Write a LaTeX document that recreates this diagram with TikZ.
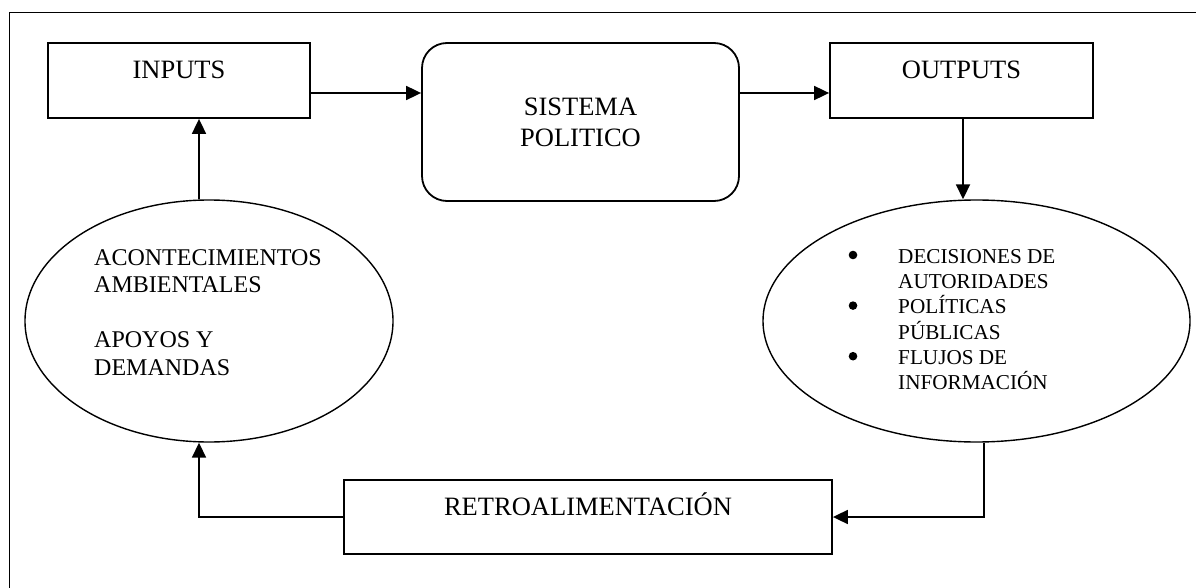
\documentclass[tikz,border=0pt]{standalone}
\usepackage{fontspec}
\setmainfont{Liberation Serif}
\usetikzlibrary{arrows.meta,shapes.geometric}
\tikzset{
  boxnode/.style={draw, line width=1.8pt, inner sep=0pt, rectangle},
  roundnode/.style={draw, line width=1.8pt, inner sep=0pt, rectangle, rounded corners=25pt},
  ellnode/.style={draw, line width=1.4pt, inner sep=0pt, ellipse},
  bigfont/.style={font=\fontsize{26.5}{31}\selectfont},
  arr/.style={line width=1.8pt, -{Triangle[length=15pt,width=14pt]}},
  bulletdot/.style={fill=black},
}
\begin{document}
\begin{tikzpicture}[x=1pt,y=-1pt]
\useasboundingbox (0,0) rectangle (1196,588);
% outer frame (top and left only)
\draw[line width=1.6pt] (9.5,588) -- (9.5,12.5) -- (1196,12.5);

% boxes
\node[boxnode, bigfont, minimum width=262pt, minimum height=75pt, text height=12pt, text depth=15pt] (inputs) at (179,80.5) {INPUTS};
\node[roundnode, bigfont, minimum width=317pt, minimum height=158pt, align=center] (sis) at (580.5,122) {SISTEMA\\POLITICO};
\node[boxnode, bigfont, minimum width=263pt, minimum height=75pt, text height=12pt, text depth=15pt] (outputs) at (961.5,80.5) {OUTPUTS};
\node[boxnode, bigfont, minimum width=488pt, minimum height=74pt, text height=12pt, text depth=16pt] (retro) at (588,517) {RETROALIMENTACIÓN};

% ellipses
\node[ellnode, minimum width=368pt, minimum height=242pt] (lell) at (209,321) {};
\node[ellnode, minimum width=427pt, minimum height=242pt] (rell) at (976.5,321) {};

% ellipse texts
\node[anchor=north west, inner sep=0pt, align=left, font=\fontsize{24}{27.8}\selectfont] (lelltext) at (94,249)
  {ACONTECIMIENTOS\\AMBIENTALES\\[27pt]APOYOS Y\\DEMANDAS};
\node[anchor=north west, inner sep=0pt, align=left, font=\fontsize{21.2}{25.3}\selectfont] (relltext) at (898,249)
  {DECISIONES DE\\AUTORIDADES\\POLÍTICAS\\PÚBLICAS\\FLUJOS DE\\INFORMACIÓN};
% list bullets
\fill[bulletdot] (853,255) circle (4.3);
\fill[bulletdot] (853,305.6) circle (4.3);
\fill[bulletdot] (853,356.2) circle (4.3);

% connectors
\draw[arr] ([yshift=-12.5pt]inputs.east) -- ([yshift=-12.5pt]inputs.east -| sis.west);
\draw[arr] ([yshift=29pt]sis.east) -- ([yshift=29pt]sis.east -| outputs.west);
\draw[arr] ([xshift=1.5pt]outputs.south) -- ([xshift=1.5pt]outputs.south |- rell.north);
\draw[arr] ([xshift=7.5pt]rell.south) |- (retro.east);
\draw[arr] (retro.west) -| ([xshift=-10pt]lell.south);
\draw[arr] ([xshift=-10pt]lell.north) -- ([xshift=-10pt]lell.north |- inputs.south);
\end{tikzpicture}
\end{document}
